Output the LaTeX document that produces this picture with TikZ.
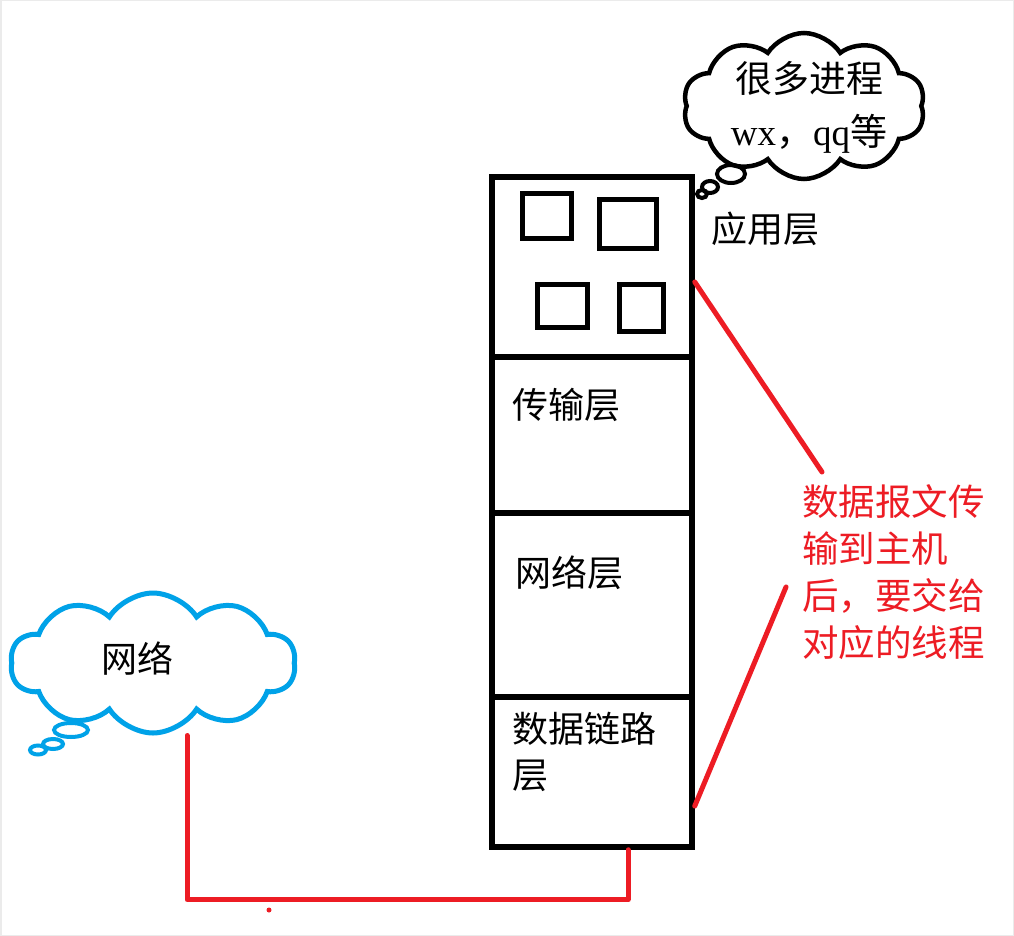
\documentclass[tikz,border=0pt]{standalone}
\usepackage{fontspec}
\setmainfont{Noto Sans CJK SC}
\newfontfamily\latinserif{Liberation Serif}
\usetikzlibrary{shapes.symbols}
\definecolor{pred}{RGB}{237,28,36}
\definecolor{pblue}{RGB}{0,162,232}
\begin{document}
\begin{tikzpicture}[x=1pt,y=-1pt,
  layerbox/.style={draw=black, line width=5.5, minimum width=200, inner sep=0, fill=white},
  smallsq/.style={draw=black, line width=5, inner sep=0},
  lbl/.style={font=\fontsize{36}{46}\selectfont, inner sep=0, align=left},
  redlbl/.style={lbl, text=pred, font=\fontsize{36.5}{47}\selectfont},
  redline/.style={draw=pred, line width=5, line cap=round, line join=round},
  bubble/.style={line width=4}
]
\useasboundingbox (0,0) rectangle (1014,936);
\fill[white] (0,0) rectangle (1014,936);
\draw[black!8, line width=3] (0,0) rectangle (1014,936);

% layer stack
\node[layerbox, minimum height=180] (app) at (592,267) {};
\node[layerbox, minimum height=156] (trans) at (592,435) {};
\node[layerbox, minimum height=184] (net) at (592,605) {};
\node[layerbox, minimum height=150] (link) at (592,772) {};

% processes in application layer
\node[smallsq, minimum width=49, minimum height=44] (p1) at (546.5,216) {};
\node[smallsq, minimum width=57, minimum height=48] (p2) at (628,224) {};
\node[smallsq, minimum width=50, minimum height=43] (p3) at (562,305.5) {};
\node[smallsq, minimum width=44, minimum height=47] (p4) at (641,308) {};

% layer labels
\node[lbl, anchor=west] (applbl) at (711,229) {应用层};
\node[lbl, anchor=west] (translbl) at (512,405) {传输层};
\node[lbl, anchor=west] (netlbl) at (515,573) {网络层};
\node[lbl, anchor=north west] (linklbl) at (512,712) {数据链路\\层};

% thought cloud of processes
\node[cloud, cloud puffs=10, cloud puff arc=115, aspect=1.65, draw=black, line width=4.5,
      minimum width=242, minimum height=146, inner sep=0] (proccloud) at (804,106) {};
\node[lbl, align=center, font=\fontsize{37}{46}\selectfont] (proctext) at (809,107) {很多进程\\[7pt]{\latinserif wx}，{\latinserif qq}等};
\draw[bubble] (731,174) ellipse (14 and 9);
\draw[bubble] (710,187) ellipse (8 and 6);
\draw[bubble] (702,194) ellipse (5 and 4);

% network cloud
\node[cloud, cloud puffs=10, cloud puff arc=115, aspect=2, draw=pblue, line width=5,
      minimum width=285, minimum height=140, inner sep=0] (netcloud) at (153,663) {};
\node[lbl] (nettext) at (137,659) {网络};
\draw[bubble, pblue] (71,730) ellipse (17 and 7);
\draw[bubble, pblue] (53,744) ellipse (10 and 5);
\draw[bubble, pblue] (38,750) ellipse (8 and 4.5);

% note
\node[redlbl, anchor=north west] (note) at (802,484) {数据报文传\\输到主机\\后，要交给\\对应的线程};
\coordinate (n1) at (822,472);
\coordinate (n2) at (786,587);
\draw[redline] ([yshift=-15]app.east) -- (n1);
\draw[redline] ([yshift=-34]link.east) -- (n2);

% physical link to network
\draw[redline] ([xshift=36]link.south) -- ++(0,50) -| ([xshift=34]netcloud.south);
\fill[pred] (269,910) circle (2.5);
\end{tikzpicture}
\end{document}
